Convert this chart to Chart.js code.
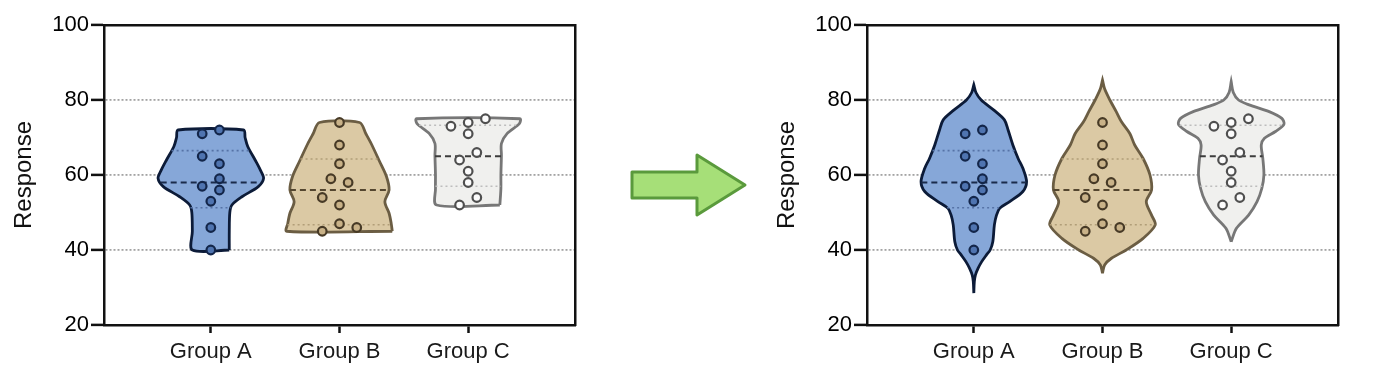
<!DOCTYPE html>
<html lang="en">
<head>
  <meta charset="UTF-8">
  <title>Violin plots - truncated vs full</title>
  <style>
    body {
      margin: 0;
      background: #fff;
      width: 1395px;
      height: 373px;
      overflow: hidden;
      position: relative;
    }
    canvas { position: absolute; top: 0; }
    #left { left: 0; }
    #right { left: 763px; }
    #arrow { position: absolute; left: 620px; top: 140px; }
  </style>
</head>
<body>
  <canvas id="left" width="600" height="373"></canvas>
  <svg id="arrow" width="140" height="90">
    <path d="M12,32 H77 V15 L125,45 L77,75 V58 H12 Z" fill="#a6df78" stroke="#5a9a3c" stroke-width="3" stroke-linejoin="round"/>
  </svg>
  <canvas id="right" width="600" height="373"></canvas>

  <script src="https://cdn.jsdelivr.net/npm/chart.js"></script>
  <script>
    const groups = ["Group A", "Group B", "Group C"];
    const yTicks = [20, 40, 60, 80, 100];

    const valuesA = [72, 71, 65, 63, 59, 57, 56, 53, 46, 40];
    const valuesB = [74, 68, 63, 59, 58, 54, 52, 47, 46, 45];
    const valuesC = [75, 74, 73, 71, 66, 64, 61, 58, 54, 52];

    // horizontal slot of each dot (scatter spreading)
    const jitterA = [1, -1, -1, 1, 1, -1, 1, 0, 0, 0];
    const jitterB = [0, 0, 0, -1, 1, -2, 0, 0, 2, -2];
    const jitterC = [2, 0, -2, 0, 1, -1, 0, 0, 1, -1];

    // violin density: [response, relative width]
    const truncA = [[40, 0.35], [45, 0.35], [50, 0.36], [52, 0.40], [54.2, 0.59], [56.9, 0.90], [59.1, 1.0], [61.3, 0.94], [64, 0.84], [67.6, 0.70], [70, 0.65], [72, 0.62]];
    const truncB = [[45, 1.0], [47.1, 0.98], [49.8, 0.94], [52.9, 0.86], [56, 0.94], [59.6, 0.89], [63.6, 0.76], [68.4, 0.60], [71, 0.50], [74, 0.38]];
    const truncC = [[52, 0.60], [56.4, 0.62], [60, 0.62], [65.3, 0.63], [68.4, 0.63], [71.1, 0.74], [73.7, 0.97], [75, 0.98]];

    const fullA = [[28.5, 0], [31.6, 0.01], [33.3, 0.03], [35.1, 0.08], [36.9, 0.15], [38.7, 0.24], [40, 0.31], [42.2, 0.36], [46.7, 0.39], [49.3, 0.43], [51.1, 0.49], [52.9, 0.68], [55.6, 0.93], [58.2, 1.0], [61.8, 0.93], [64.4, 0.84], [68, 0.74], [72, 0.65], [74.7, 0.58], [77.3, 0.38], [80, 0.14], [82, 0.04], [84, 0]];
    const fullB = [[33.8, 0], [36, 0.04], [37.8, 0.17], [40, 0.45], [43.1, 0.77], [46.7, 1.0], [49.3, 0.93], [52.9, 0.83], [56, 0.93], [60, 0.90], [64.4, 0.77], [68, 0.61], [71, 0.52], [74.2, 0.36], [76.9, 0.26], [80, 0.14], [83, 0.04], [85.3, 0]];
    const fullC = [[42.2, 0], [45.8, 0.10], [49.3, 0.33], [52.9, 0.49], [56.4, 0.58], [60, 0.62], [64.4, 0.60], [68, 0.57], [69.8, 0.63], [71.6, 0.84], [73.5, 1.0], [75.1, 0.96], [76.9, 0.72], [78.7, 0.34], [80, 0.14], [82, 0.04], [84.9, 0]];

    const allValues = [valuesA, valuesB, valuesC];
    const allJitter = [jitterA, jitterB, jitterC];

    const fills = ["#86a7d8", "#dbc9a4", "#f0f0ee"];
    const outlines = ["#0c1b38", "#6b5d43", "#777777"];
    const dotFill = ["#4f74b0", "#c9b288", "#fcfcfc"];
    const dotLine = ["#13264a", "#473a26", "#4f4f4f"];
    const medianCol = ["#1a2b4b", "#54462f", "#3c3c3c"];
    const quartCol = ["#5673a6", "#b19e78", "#bdbdbd"];

    const HALF = 0.41;   // max half width of a violin, in x units
    const STEP = 0.067;  // dot spreading step

    Chart.defaults.font.family = "'Liberation Sans', Arial, sans-serif";

    function quantile(vals, p) {
      const s = vals.slice().sort((a, b) => a - b);
      const pos = p * (s.length + 1) - 1;
      const lo = Math.floor(pos);
      const fr = pos - lo;
      const hi = Math.min(lo + 1, s.length - 1);
      return s[lo] + fr * (s[hi] - s[lo]);
    }

    function widthAt(prof, v) {
      for (let i = 0; i < prof.length - 1; i++) {
        const [v0, w0] = prof[i], [v1, w1] = prof[i + 1];
        if (v >= v0 && v <= v1) return w0 + (w1 - w0) * (v - v0) / (v1 - v0);
      }
      return 0;
    }

    function buildDatasets(profiles) {
      const sets = [];
      allValues.forEach((vals, i) => {
        const c = i + 1;
        const prof = profiles[i];
        const right = prof.map(p => ({ x: c + p[1] * HALF, y: p[0] }));
        const left = prof.slice().reverse().map(p => ({ x: c - p[1] * HALF, y: p[0] }));
        sets.push({
          data: right.concat(left, [right[0]]),
          showLine: true, fill: "shape", tension: 0.3,
          backgroundColor: fills[i], borderColor: outlines[i], borderWidth: 2.8,
          pointRadius: 0, order: 3
        });
        [0.25, 0.75].forEach(p => {
          const q = quantile(vals, p);
          const w = widthAt(prof, q) * HALF;
          sets.push({
            data: [{ x: c - w, y: q }, { x: c + w, y: q }],
            showLine: true, borderColor: quartCol[i], borderWidth: 1.6, borderDash: [2, 3],
            pointRadius: 0, order: 2
          });
        });
        const m = quantile(vals, 0.5);
        const wm = widthAt(prof, m) * HALF;
        sets.push({
          data: [{ x: c - wm, y: m }, { x: c + wm, y: m }],
          showLine: true, borderColor: medianCol[i], borderWidth: 2, borderDash: [6, 4],
          pointRadius: 0, order: 2
        });
        sets.push({
          data: vals.map((v, k) => ({ x: c + allJitter[i][k] * STEP, y: v })),
          pointRadius: 4.3, pointBorderWidth: 2.2,
          backgroundColor: dotFill[i], borderColor: dotLine[i], order: 1
        });
      });
      return sets;
    }

    function makeChart(id, profiles) {
      return new Chart(document.getElementById(id), {
        type: "scatter",
        data: { datasets: buildDatasets(profiles) },
        options: {
          responsive: false,
          animation: false,
          devicePixelRatio: 1,
          events: [],
          layout: { padding: { top: 25, right: 25, left: 0, bottom: 0 } },
          plugins: { legend: { display: false }, tooltip: { enabled: false } },
          scales: {
            x: {
              type: "linear", min: 0.17, max: 3.83,
              afterBuildTicks: s => { s.ticks = groups.map((g, i) => ({ value: i + 1 })); },
              afterFit: s => { s.height = 48; },
              ticks: {
                callback: v => groups[Math.round(v) - 1],
                color: "#1a1a1a", font: { size: 22 }, padding: 6,
                maxRotation: 0, autoSkip: false
              },
              grid: { drawOnChartArea: false, tickLength: 8, tickWidth: 2.5, tickColor: "#111" },
              border: { color: "#111", width: 2.5 }
            },
            y: {
              min: 20, max: 100,
              afterBuildTicks: s => { s.ticks = yTicks.map(v => ({ value: v })); },
              afterFit: s => { s.width = 104; },
              ticks: { color: "#000", font: { size: 22 }, padding: 2 },
              grid: {
                color: c => (c.tick && c.tick.value > 20 && c.tick.value < 100) ? "#a3a3a3" : "rgba(0,0,0,0)",
                lineWidth: 1.8, tickLength: 13, tickWidth: 2.5, tickColor: "#111"
              },
              border: { color: "#111", width: 2.5, dash: [2, 2] },
              title: { display: true, text: "Response", color: "#111", font: { size: 24 }, padding: { top: 10, bottom: 0 } }
            },
            x2: {
              type: "linear", position: "top", display: true,
              afterFit: s => { s.height = 0; },
              ticks: { display: false },
              grid: { display: false, drawTicks: false },
              border: { color: "#111", width: 2.5 }
            },
            y2: {
              type: "linear", position: "right", display: true,
              afterFit: s => { s.width = 0; },
              ticks: { display: false },
              grid: { display: false, drawTicks: false },
              border: { color: "#111", width: 2.5 }
            }
          }
        }
      });
    }

    makeChart("left", [truncA, truncB, truncC]);
    makeChart("right", [fullA, fullB, fullC]);
  </script>
</body>
</html>
